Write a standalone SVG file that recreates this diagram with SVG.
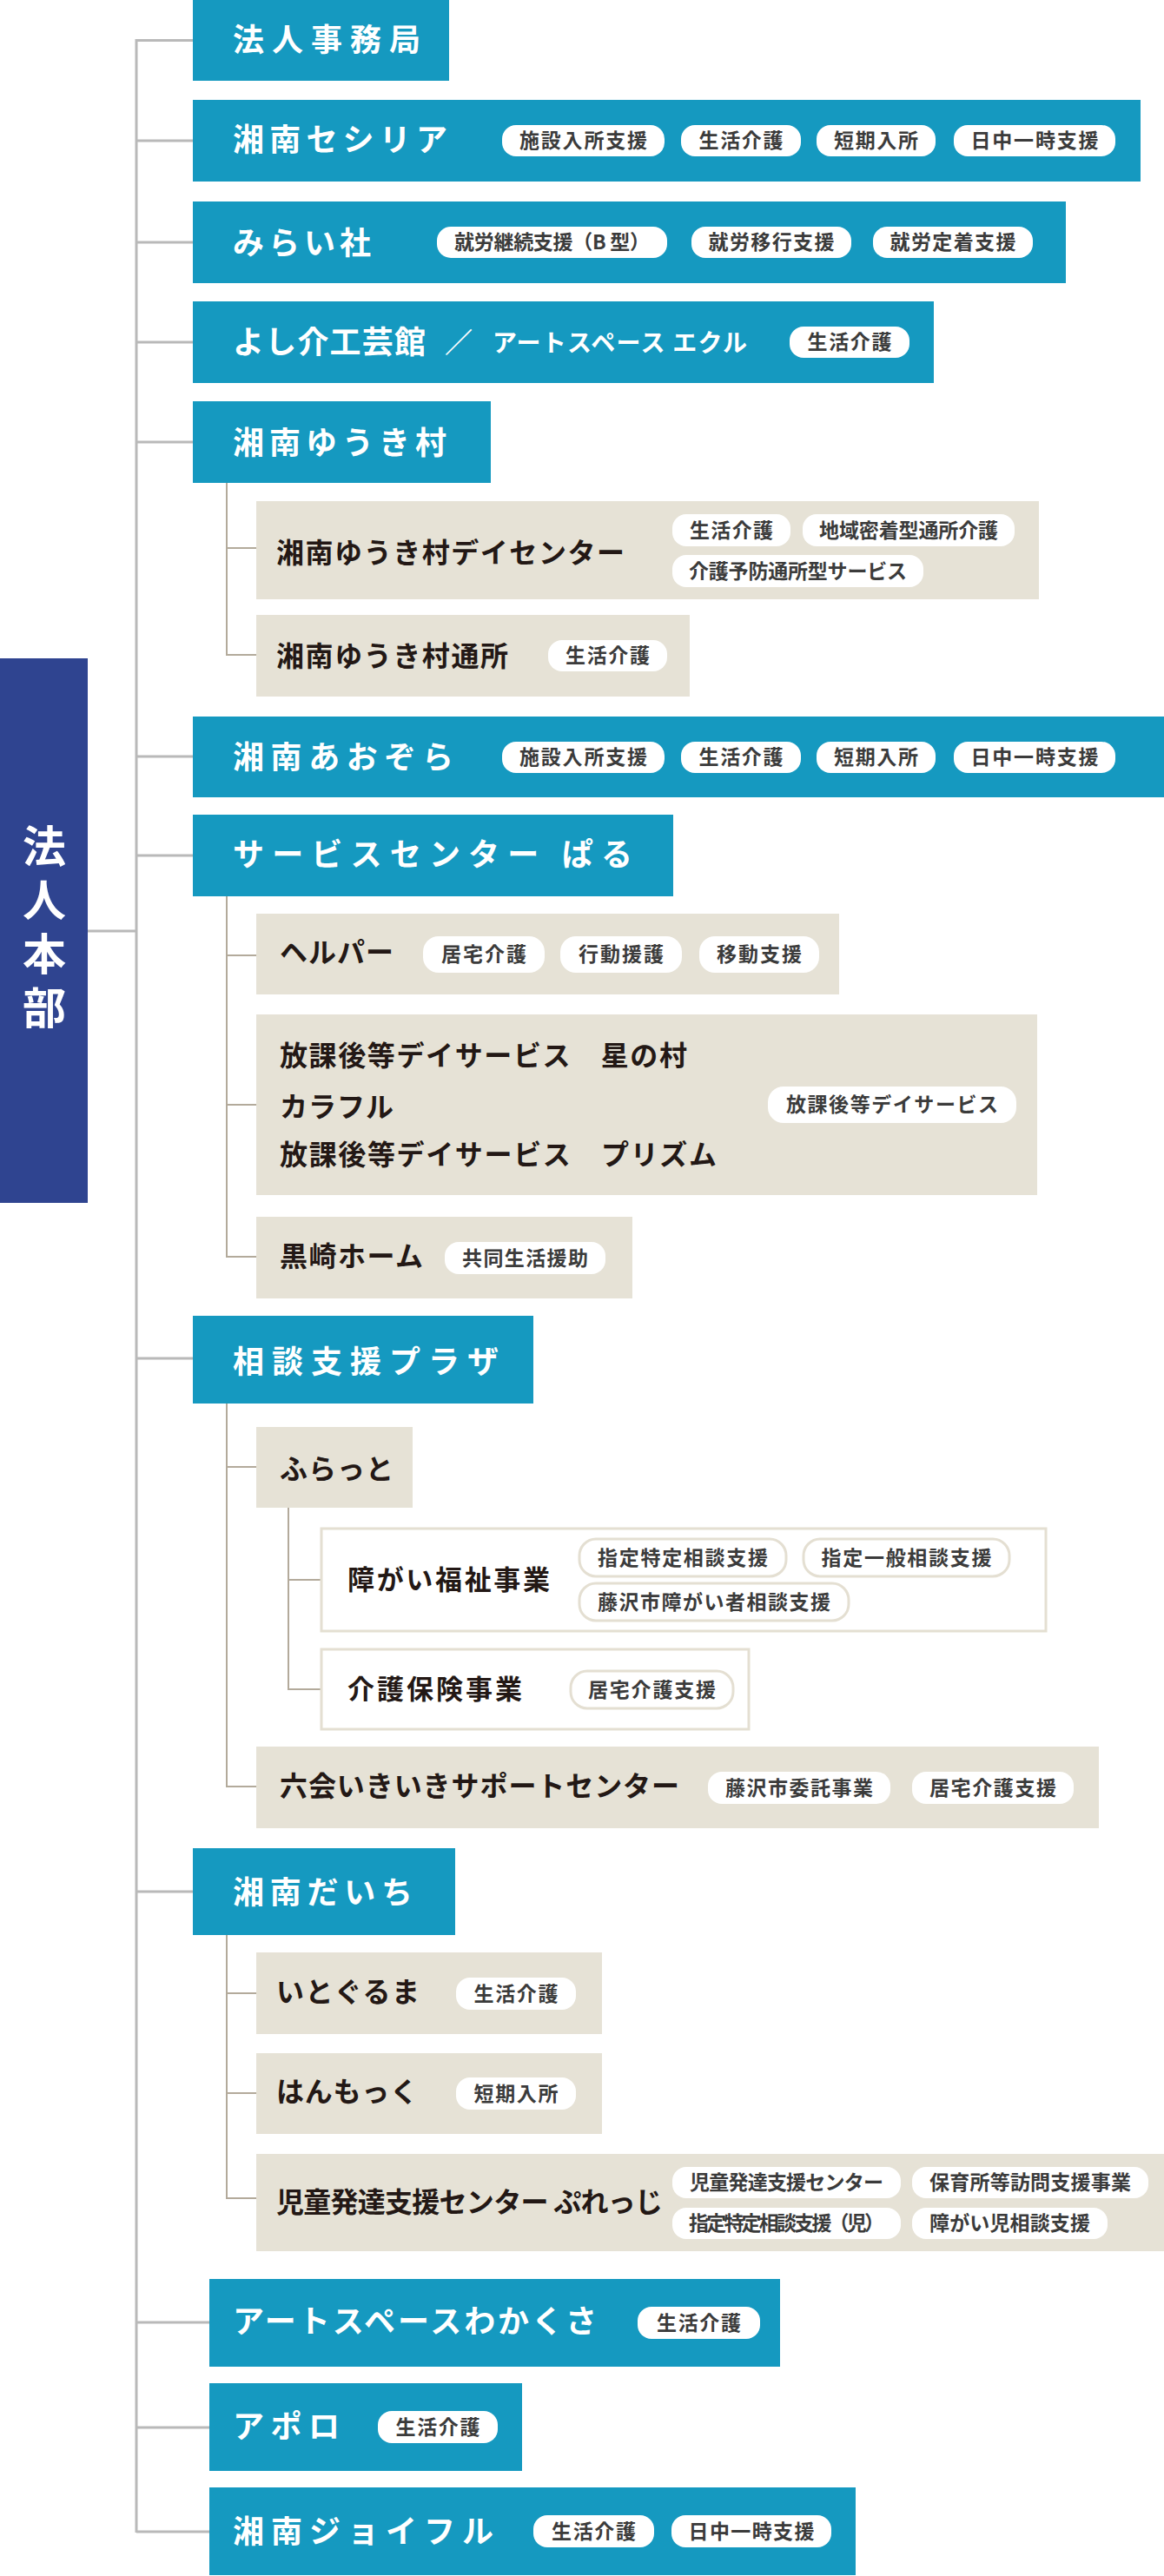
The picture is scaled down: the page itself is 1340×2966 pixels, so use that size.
<svg xmlns="http://www.w3.org/2000/svg" width="1340" height="2966" viewBox="0 0 1340 2966">
<style>
text{font-family:"Noto Sans CJK JP","Noto Sans CJK SC",sans-serif;font-weight:700}
.bx{fill:#1599c0}
.tn{fill:#e6e2d6}
.wb{fill:#fff;stroke:#e4dfd2;stroke-width:3}
.tm{font-size:36px;fill:#fff}
.ts{font-size:32px;fill:#231815}
.tw{font-size:31px;fill:#231815}
.pl{fill:#fff}
.po{fill:#fff;stroke:#e4dfd2;stroke-width:3}
.tp{font-size:23px;fill:#3b3b3b;text-anchor:middle}
.hq{fill:#2f4490}
.main{stroke:#b9b9b9;stroke-width:3;fill:none}
.sub{stroke:#b3aa9b;stroke-width:2;fill:none}
</style>
<g id="connectors">
<path class="main" d="M157 45V2916M101 1072H157M157 46.5H222M157 162H222M157 279H222M157 394H222M157 509H222M157 871H222M157 985H222M157 1564H222M157 2178H222M157 2674H241M157 2795H241M157 2915H241"/>
<path class="sub" d="M261 556V755M261 631H295M261 754H295M261 1032V1448M261 1100H295M261 1272H295M261 1447H295M261 1616V2058M261 1689H295M261 2057H295M332 1736V1946M332 1819H370M332 1945H370M261 2228V2532M261 2295H295M261 2410H295M261 2531H295"/>
</g>
<g id="hq">
<rect class="hq" x="0" y="758" width="101" height="627"/>
<text x="51" y="1073" font-size="50" fill="#fff" text-anchor="middle" style="writing-mode:vertical-rl;letter-spacing:12px">法人本部</text>
</g>
<g id="jimukyoku">
<rect class="bx" x="222" y="0" width="295" height="93"/>
<text class="tm" x="268" y="59" textLength="216">法人事務局</text>
</g>
<g id="cecilia">
<rect class="bx" x="222" y="115" width="1091" height="94"/>
<text class="tm" x="268" y="174" textLength="247">湘南セシリア</text>
<rect class="pl" x="578" y="144" width="187" height="36" rx="16"/><text class="tp" x="671.5" y="170" textLength="147">施設入所支援</text>
<rect class="pl" x="784" y="144" width="138" height="36" rx="16"/><text class="tp" x="853" y="170" textLength="97">生活介護</text>
<rect class="pl" x="940" y="144" width="137" height="36" rx="16"/><text class="tp" x="1008.5" y="170" textLength="97">短期入所</text>
<rect class="pl" x="1098" y="144" width="186" height="36" rx="16"/><text class="tp" x="1191" y="170" textLength="147">日中一時支援</text>
</g>
<g id="miraisha">
<rect class="bx" x="222" y="232" width="1005" height="94"/>
<text class="tm" x="268" y="293" textLength="159">みらい社</text>
<rect class="pl" x="503" y="261" width="265" height="36" rx="16"/><text class="tp" x="635.5" y="287" textLength="225">就労継続支援（B 型）</text>
<rect class="pl" x="796" y="261" width="184" height="36" rx="16"/><text class="tp" x="888" y="287" textLength="145">就労移行支援</text>
<rect class="pl" x="1005" y="261" width="184" height="36" rx="16"/><text class="tp" x="1097" y="287" textLength="145">就労定着支援</text>
</g>
<g id="yoshisuke">
<rect class="bx" x="222" y="347" width="853" height="94"/>
<text class="tm" x="268" y="407" textLength="222">よし介工芸館</text>
<text x="512" y="406" font-size="32" font-weight="400" fill="#fff">／</text>
<text x="567" y="405" font-size="28" fill="#fff" textLength="293">アートスペース エクル</text>
<rect class="pl" x="909" y="376" width="138" height="36" rx="16"/><text class="tp" x="978" y="402" textLength="97">生活介護</text>
</g>
<g id="yukimura">
<rect class="bx" x="222" y="462" width="343" height="94"/>
<text class="tm" x="268" y="523" textLength="246">湘南ゆうき村</text>
</g>
<g id="yukimura-day">
<rect class="tn" x="295" y="577" width="901" height="113"/>
<text class="ts" x="318" y="648" textLength="401">湘南ゆうき村デイセンター</text>
<rect class="pl" x="774" y="592" width="136" height="37" rx="16"/><text class="tp" x="842" y="618.5" textLength="96">生活介護</text>
<rect class="pl" x="924" y="592" width="244" height="37" rx="16"/><text class="tp" x="1046" y="618.5" textLength="206">地域密着型通所介護</text>
<rect class="pl" x="774" y="639" width="289" height="37" rx="16"/><text class="tp" x="918.5" y="665.5" textLength="251">介護予防通所型サービス</text>
</g>
<g id="yukimura-tsusho">
<rect class="tn" x="295" y="708" width="499" height="94"/>
<text class="ts" x="318" y="767" textLength="267">湘南ゆうき村通所</text>
<rect class="pl" x="631" y="737" width="137" height="36" rx="16"/><text class="tp" x="699.5" y="763" textLength="97">生活介護</text>
</g>
<g id="aozora">
<rect class="bx" x="222" y="825" width="1118" height="93"/>
<text class="tm" x="268" y="885" textLength="254">湘南あおぞら</text>
<rect class="pl" x="578" y="854" width="187" height="36" rx="16"/><text class="tp" x="671.5" y="880" textLength="147">施設入所支援</text>
<rect class="pl" x="784" y="854" width="138" height="36" rx="16"/><text class="tp" x="853" y="880" textLength="97">生活介護</text>
<rect class="pl" x="940" y="854" width="137" height="36" rx="16"/><text class="tp" x="1008.5" y="880" textLength="97">短期入所</text>
<rect class="pl" x="1098" y="854" width="186" height="36" rx="16"/><text class="tp" x="1191" y="880" textLength="147">日中一時支援</text>
</g>
<g id="paru">
<rect class="bx" x="222" y="938" width="553" height="94"/>
<text class="tm" x="268" y="997" textLength="460">サービスセンター ぱる</text>
</g>
<g id="helper">
<rect class="tn" x="295" y="1052" width="671" height="93"/>
<text class="ts" x="322" y="1108" textLength="131">ヘルパー</text>
<rect class="pl" x="487" y="1078" width="140" height="42" rx="18"/><text class="tp" x="557" y="1107" textLength="98">居宅介護</text>
<rect class="pl" x="645" y="1078" width="140" height="42" rx="18"/><text class="tp" x="715" y="1107" textLength="98">行動援護</text>
<rect class="pl" x="805" y="1078" width="138" height="42" rx="18"/><text class="tp" x="874" y="1107" textLength="98">移動支援</text>
</g>
<g id="houkago">
<rect class="tn" x="295" y="1168" width="899" height="208"/>
<text class="ts" x="322" y="1227" textLength="469">放課後等デイサービス　星の村</text>
<text class="ts" x="322" y="1286" textLength="131">カラフル</text>
<text class="ts" x="322" y="1341" textLength="503">放課後等デイサービス　プリズム</text>
<rect class="pl" x="884" y="1251" width="286" height="42" rx="18"/><text class="tp" x="1027" y="1280" textLength="244">放課後等デイサービス</text>
</g>
<g id="kurosaki">
<rect class="tn" x="295" y="1401" width="433" height="94"/>
<text class="ts" x="322" y="1458" textLength="165">黒崎ホーム</text>
<rect class="pl" x="512" y="1430" width="185" height="37" rx="16"/><text class="tp" x="604.5" y="1456.5" textLength="145">共同生活援助</text>
</g>
<g id="plaza">
<rect class="bx" x="222" y="1515" width="392" height="101"/>
<text class="tm" x="268" y="1581" textLength="306">相談支援プラザ</text>
</g>
<g id="furatto">
<rect class="tn" x="295" y="1643" width="180" height="93"/>
<text class="ts" x="322" y="1703" textLength="131">ふらっと</text>
</g>
<g id="shogai">
<rect class="wb" x="370" y="1760" width="834" height="118"/>
<text class="tw" x="400" y="1830" textLength="233">障がい福祉事業</text>
<rect class="po" x="667" y="1772" width="238" height="43" rx="19"/><text class="tp" x="786" y="1801.5" textLength="196">指定特定相談支援</text>
<rect class="po" x="925" y="1772" width="237" height="43" rx="19"/><text class="tp" x="1043.5" y="1801.5" textLength="196">指定一般相談支援</text>
<rect class="po" x="667" y="1823" width="310" height="43" rx="19"/><text class="tp" x="822" y="1852.5" textLength="268">藤沢市障がい者相談支援</text>
</g>
<g id="kaigo">
<rect class="wb" x="370" y="1899" width="492" height="92"/>
<text class="tw" x="400" y="1956" textLength="201">介護保険事業</text>
<rect class="po" x="657" y="1924" width="187" height="43" rx="19"/><text class="tp" x="750.5" y="1953.5" textLength="147">居宅介護支援</text>
</g>
<g id="mutsuai">
<rect class="tn" x="295" y="2011" width="970" height="94"/>
<text class="ts" x="322" y="2068" textLength="460">六会いきいきサポートセンター</text>
<rect class="pl" x="815" y="2040" width="210" height="37" rx="16"/><text class="tp" x="920" y="2066.5" textLength="170">藤沢市委託事業</text>
<rect class="pl" x="1050" y="2040" width="186" height="37" rx="16"/><text class="tp" x="1143" y="2066.5" textLength="146">居宅介護支援</text>
</g>
<g id="daichi">
<rect class="bx" x="222" y="2128" width="302" height="100"/>
<text class="tm" x="268" y="2192" textLength="207">湘南だいち</text>
</g>
<g id="itoguruma">
<rect class="tn" x="295" y="2248" width="398" height="94"/>
<text class="ts" x="318" y="2305" textLength="165">いとぐるま</text>
<rect class="pl" x="525" y="2277" width="138" height="37" rx="16"/><text class="tp" x="594" y="2303.5" textLength="97">生活介護</text>
</g>
<g id="hanmokku">
<rect class="tn" x="295" y="2364" width="398" height="93"/>
<text class="ts" x="318" y="2420" textLength="163">はんもっく</text>
<rect class="pl" x="525" y="2392" width="138" height="37" rx="16"/><text class="tp" x="594" y="2418.5" textLength="97">短期入所</text>
</g>
<g id="pledge">
<rect class="tn" x="295" y="2480" width="1045" height="112"/>
<text class="ts" x="318" y="2547" textLength="445">児童発達支援センター ぷれっじ</text>
<rect class="pl" x="774" y="2495" width="263" height="36" rx="16"/><text class="tp" x="905.5" y="2521" textLength="223">児童発達支援センター</text>
<rect class="pl" x="1050" y="2495" width="272" height="36" rx="16"/><text class="tp" x="1186" y="2521" textLength="232">保育所等訪問支援事業</text>
<rect class="pl" x="774" y="2542" width="263" height="36" rx="16"/><text class="tp" x="905.5" y="2568" textLength="225">指定特定相談支援（児）</text>
<rect class="pl" x="1050" y="2542" width="225" height="36" rx="16"/><text class="tp" x="1162.5" y="2568" textLength="185">障がい児相談支援</text>
</g>
<g id="wakakusa">
<rect class="bx" x="241" y="2624" width="657" height="101"/>
<text class="tm" x="268" y="2686" textLength="419">アートスペースわかくさ</text>
<rect class="pl" x="734" y="2656" width="141" height="37" rx="16"/><text class="tp" x="804.5" y="2682.5" textLength="97">生活介護</text>
</g>
<g id="apollo">
<rect class="bx" x="241" y="2744" width="360" height="101"/>
<text class="tm" x="268" y="2807" textLength="123">アポロ</text>
<rect class="pl" x="435" y="2776" width="138" height="37" rx="16"/><text class="tp" x="504" y="2802.5" textLength="97">生活介護</text>
</g>
<g id="joyful">
<rect class="bx" x="241" y="2864" width="744" height="101"/>
<text class="tm" x="268" y="2928" textLength="300">湘南ジョイフル</text>
<rect class="pl" x="614" y="2896" width="139" height="37" rx="16"/><text class="tp" x="683.5" y="2922.5" textLength="97">生活介護</text>
<rect class="pl" x="773" y="2896" width="184" height="37" rx="16"/><text class="tp" x="865" y="2922.5" textLength="145">日中一時支援</text>
</g>
</svg>
